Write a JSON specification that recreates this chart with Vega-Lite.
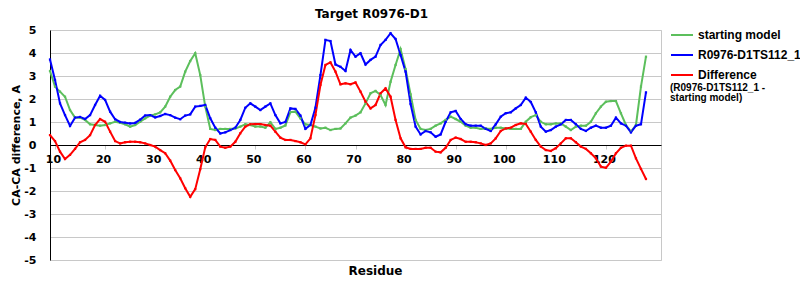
{
  "$schema": "https://vega.github.io/schema/vega-lite/v6.json",
  "width": 611,
  "height": 230,
  "autosize": {"type": "none"},
  "padding": {"left": 50, "top": 30, "right": 139, "bottom": 40},
  "background": "white",
  "config": {"view": {"stroke": "#c8c8c8"}, "font": "DejaVu Sans"},
  "title": {"text": "Target R0976-D1", "font": "DejaVu Sans", "fontSize": 12, "fontWeight": "bold", "color": "black", "anchor": "middle", "dx": 16, "offset": 2},
  "data": {"values": [
    {"r": 9, "g": 3.22, "b": 3.72, "d": 0.43},
    {"r": 10, "g": 2.54, "b": 2.83, "d": 0.17},
    {"r": 11, "g": 2.32, "b": 1.81, "d": -0.29},
    {"r": 12, "g": 2.1, "b": 1.3, "d": -0.61},
    {"r": 13, "g": 1.52, "b": 0.83, "d": -0.43},
    {"r": 14, "g": 1.19, "b": 1.19, "d": -0.17},
    {"r": 15, "g": 1.19, "b": 1.22, "d": 0.12},
    {"r": 16, "g": 1.09, "b": 1.13, "d": 0.22},
    {"r": 17, "g": 0.9, "b": 1.3, "d": 0.43},
    {"r": 18, "g": 0.87, "b": 1.74, "d": 0.87},
    {"r": 19, "g": 0.84, "b": 2.14, "d": 1.13},
    {"r": 20, "g": 0.87, "b": 1.96, "d": 1.01},
    {"r": 21, "g": 0.94, "b": 1.45, "d": 0.58},
    {"r": 22, "g": 1.01, "b": 1.12, "d": 0.17},
    {"r": 23, "g": 0.97, "b": 1.0, "d": 0.07},
    {"r": 24, "g": 0.9, "b": 0.97, "d": 0.12},
    {"r": 25, "g": 0.8, "b": 0.94, "d": 0.14},
    {"r": 26, "g": 0.87, "b": 0.96, "d": 0.14},
    {"r": 27, "g": 1.01, "b": 1.1, "d": 0.12},
    {"r": 28, "g": 1.16, "b": 1.28, "d": 0.07},
    {"r": 29, "g": 1.28, "b": 1.3, "d": 0.0},
    {"r": 30, "g": 1.33, "b": 1.2, "d": -0.07},
    {"r": 31, "g": 1.42, "b": 1.26, "d": -0.22},
    {"r": 32, "g": 1.67, "b": 1.35, "d": -0.36},
    {"r": 33, "g": 2.1, "b": 1.3, "d": -0.68},
    {"r": 34, "g": 2.39, "b": 1.19, "d": -1.09},
    {"r": 35, "g": 2.54, "b": 1.12, "d": -1.45},
    {"r": 36, "g": 3.19, "b": 1.28, "d": -1.88},
    {"r": 37, "g": 3.65, "b": 1.33, "d": -2.25},
    {"r": 38, "g": 3.99, "b": 1.67, "d": -1.92},
    {"r": 39, "g": 3.04, "b": 1.7, "d": -1.05},
    {"r": 40, "g": 1.67, "b": 1.74, "d": -0.1},
    {"r": 41, "g": 0.7, "b": 1.16, "d": 0.26},
    {"r": 42, "g": 0.65, "b": 0.75, "d": 0.22},
    {"r": 43, "g": 0.7, "b": 0.5, "d": -0.07},
    {"r": 44, "g": 0.7, "b": 0.55, "d": -0.12},
    {"r": 45, "g": 0.7, "b": 0.65, "d": -0.07},
    {"r": 46, "g": 0.72, "b": 0.75, "d": 0.14},
    {"r": 47, "g": 0.8, "b": 1.09, "d": 0.51},
    {"r": 48, "g": 0.9, "b": 1.62, "d": 0.8},
    {"r": 49, "g": 0.87, "b": 1.81, "d": 0.9},
    {"r": 50, "g": 0.8, "b": 1.67, "d": 0.91},
    {"r": 51, "g": 0.8, "b": 1.52, "d": 0.91},
    {"r": 52, "g": 0.75, "b": 1.67, "d": 0.87},
    {"r": 53, "g": 0.99, "b": 1.81, "d": 0.84},
    {"r": 54, "g": 0.7, "b": 1.3, "d": 0.58},
    {"r": 55, "g": 0.75, "b": 0.94, "d": 0.32},
    {"r": 56, "g": 0.85, "b": 1.0, "d": 0.22},
    {"r": 57, "g": 1.43, "b": 1.59, "d": 0.22},
    {"r": 58, "g": 1.45, "b": 1.57, "d": 0.17},
    {"r": 59, "g": 1.16, "b": 1.28, "d": 0.12},
    {"r": 60, "g": 0.9, "b": 0.7, "d": 0.03},
    {"r": 61, "g": 0.87, "b": 0.87, "d": 0.29},
    {"r": 62, "g": 0.8, "b": 1.62, "d": 1.3},
    {"r": 63, "g": 0.72, "b": 3.04, "d": 2.61},
    {"r": 64, "g": 0.75, "b": 4.57, "d": 3.48},
    {"r": 65, "g": 0.65, "b": 4.52, "d": 3.59},
    {"r": 66, "g": 0.7, "b": 3.5, "d": 3.19},
    {"r": 67, "g": 0.72, "b": 3.4, "d": 2.64},
    {"r": 68, "g": 0.94, "b": 3.22, "d": 2.68},
    {"r": 69, "g": 1.19, "b": 4.13, "d": 2.64},
    {"r": 70, "g": 1.28, "b": 3.84, "d": 2.72},
    {"r": 71, "g": 1.42, "b": 3.99, "d": 2.32},
    {"r": 72, "g": 1.81, "b": 3.5, "d": 1.88},
    {"r": 73, "g": 2.25, "b": 3.7, "d": 1.59},
    {"r": 74, "g": 2.35, "b": 3.84, "d": 1.74},
    {"r": 75, "g": 2.17, "b": 4.35, "d": 2.25},
    {"r": 76, "g": 1.74, "b": 4.57, "d": 2.46},
    {"r": 77, "g": 2.75, "b": 4.86, "d": 2.1},
    {"r": 78, "g": 3.48, "b": 4.61, "d": 1.09},
    {"r": 79, "g": 4.17, "b": 3.91, "d": 0.29},
    {"r": 80, "g": 3.3, "b": 3.19, "d": -0.1},
    {"r": 81, "g": 2.2, "b": 1.78, "d": -0.17},
    {"r": 82, "g": 1.09, "b": 0.8, "d": -0.17},
    {"r": 83, "g": 0.7, "b": 0.46, "d": -0.17},
    {"r": 84, "g": 0.65, "b": 0.61, "d": -0.12},
    {"r": 85, "g": 0.7, "b": 0.55, "d": -0.12},
    {"r": 86, "g": 0.84, "b": 0.36, "d": -0.29},
    {"r": 87, "g": 0.94, "b": 0.46, "d": -0.32},
    {"r": 88, "g": 1.09, "b": 1.01, "d": -0.12},
    {"r": 89, "g": 1.23, "b": 1.42, "d": 0.22},
    {"r": 90, "g": 1.13, "b": 1.48, "d": 0.32},
    {"r": 91, "g": 1.01, "b": 1.13, "d": 0.26},
    {"r": 92, "g": 0.84, "b": 0.9, "d": 0.14},
    {"r": 93, "g": 0.75, "b": 0.84, "d": 0.14},
    {"r": 94, "g": 0.75, "b": 0.84, "d": 0.12},
    {"r": 95, "g": 0.7, "b": 0.84, "d": 0.07},
    {"r": 96, "g": 0.72, "b": 0.7, "d": 0.0},
    {"r": 97, "g": 0.7, "b": 0.61, "d": 0.07},
    {"r": 98, "g": 0.75, "b": 0.9, "d": 0.29},
    {"r": 99, "g": 0.75, "b": 1.23, "d": 0.61},
    {"r": 100, "g": 0.72, "b": 1.38, "d": 0.72},
    {"r": 101, "g": 0.7, "b": 1.42, "d": 0.75},
    {"r": 102, "g": 0.7, "b": 1.59, "d": 0.87},
    {"r": 103, "g": 0.7, "b": 1.74, "d": 0.94},
    {"r": 104, "g": 1.01, "b": 2.06, "d": 0.92},
    {"r": 105, "g": 1.21, "b": 1.87, "d": 0.58},
    {"r": 106, "g": 1.3, "b": 1.42, "d": 0.22},
    {"r": 107, "g": 1.01, "b": 0.8, "d": -0.07},
    {"r": 108, "g": 0.9, "b": 0.58, "d": -0.22},
    {"r": 109, "g": 0.9, "b": 0.65, "d": -0.26},
    {"r": 110, "g": 0.94, "b": 0.8, "d": -0.14},
    {"r": 111, "g": 0.94, "b": 0.9, "d": 0.07},
    {"r": 112, "g": 0.8, "b": 1.09, "d": 0.29},
    {"r": 113, "g": 0.65, "b": 1.09, "d": 0.29},
    {"r": 114, "g": 0.8, "b": 0.9, "d": 0.12},
    {"r": 115, "g": 0.84, "b": 0.7, "d": -0.07},
    {"r": 116, "g": 0.84, "b": 0.61, "d": -0.17},
    {"r": 117, "g": 1.01, "b": 0.75, "d": -0.36},
    {"r": 118, "g": 1.38, "b": 0.84, "d": -0.58},
    {"r": 119, "g": 1.67, "b": 0.75, "d": -0.94},
    {"r": 120, "g": 1.88, "b": 0.75, "d": -0.99},
    {"r": 121, "g": 1.91, "b": 0.84, "d": -0.72},
    {"r": 122, "g": 1.91, "b": 1.19, "d": -0.36},
    {"r": 123, "g": 1.38, "b": 0.94, "d": -0.12},
    {"r": 124, "g": 0.87, "b": 0.84, "d": -0.03},
    {"r": 125, "g": 0.58, "b": 0.55, "d": -0.03},
    {"r": 126, "g": 0.87, "b": 0.84, "d": -0.58},
    {"r": 127, "g": 2.54, "b": 0.9, "d": -1.04},
    {"r": 128, "g": 3.84, "b": 2.29, "d": -1.48}
  ]},
  "transform": [{"fold": ["g", "b", "d"], "as": ["series", "value"]}],
  "mark": {"type": "line", "strokeWidth": 2, "point": {"shape": "square", "size": 5, "filled": true}},
  "encoding": {
    "x": {
      "field": "r", "type": "quantitative",
      "scale": {"domain": [9, 131], "nice": false, "zero": false},
      "axis": {
        "values": [10, 20, 30, 40, 50, 60, 70, 80, 90, 100, 110, 120],
        "offset": -115, "grid": false,
        "domainColor": "black", "domainWidth": 1,
        "tickColor": "#c8c8c8", "tickSize": 4,
        "labelFont": "DejaVu Sans", "labelFontSize": 11, "labelFontWeight": "bold", "labelColor": "black", "labelPadding": 4, "labelOffset": -2,
        "title": "Residue", "titleFont": "DejaVu Sans", "titleFontSize": 12, "titleFontWeight": "bold", "titleColor": "black",
        "titleX": 325, "titleY": 120, "titleBaseline": "top", "titleAlign": "center"
      }
    },
    "y": {
      "field": "value", "type": "quantitative",
      "scale": {"domain": [-5, 5], "nice": false},
      "axis": {
        "values": [-5, -4, -3, -2, -1, 0, 1, 2, 3, 4, 5],
        "labelExpr": "datum.value < 0 ? '-' + abs(datum.value) : '' + datum.value",
        "ticks": false, "domainColor": "black", "gridColor": "#c8c8c8",
        "labelFont": "DejaVu Sans", "labelFontSize": 11, "labelFontWeight": "bold", "labelColor": "black", "labelPadding": 14,
        "title": "CA-CA difference, A", "titleFont": "DejaVu Sans", "titleFontSize": 11, "titleFontWeight": "bold", "titleColor": "black", "titlePadding": 2
      }
    },
    "color": {
      "field": "series", "type": "nominal",
      "scale": {"domain": ["g", "b", "d"], "range": ["#5cbf5c", "#0000ff", "#ff0000"]},
      "legend": {
        "orient": "none", "legendX": 620, "legendY": -7,
        "title": ["(R0976-D1TS112_1 -", "\u00a0\u00a0\u00a0\u00a0\u00a0\u00a0\u00a0\u00a0\u00a0\u00a0\u00a0starting model)"],
        "titleOrient": "bottom", "titleFont": "Liberation Sans", "titleFontSize": 10, "titleFontWeight": "bold", "titleColor": "black",
        "titleLineHeight": 10, "titlePadding": 2, "titleBaseline": "top", "titleAlign": "left",
        "symbolType": "stroke", "symbolSize": 484, "symbolStrokeWidth": 2,
        "labelExpr": "datum.value == 'g' ? 'starting model' : datum.value == 'b' ? 'R0976-D1TS112_1' : 'Difference'",
        "labelFont": "Liberation Sans", "labelFontSize": 12, "labelFontWeight": "bold", "labelColor": "black", "labelLimit": 300, "rowPadding": 2
      }
    }
  }
}
